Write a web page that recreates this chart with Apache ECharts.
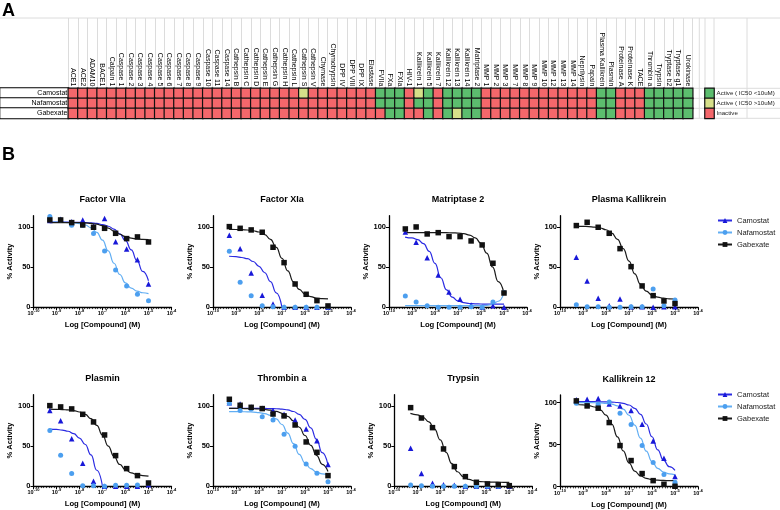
<!DOCTYPE html>
<html><head><meta charset="utf-8">
<script src="https://cdn.jsdelivr.net/npm/echarts@6/dist/echarts.min.js"></script>
<style>html,body{margin:0;padding:0;background:#fff}#c{width:780px;height:510px}</style>
</head><body><div id="c"></div>
<script>
// ---------- Panel A data ----------
const targets = ['ACE1','ACE2','ADAM10','BACE1','Calpain 1','Caspase 1','Caspase 2','Caspase 3','Caspase 4','Caspase 5','Caspase 6','Caspase 7','Caspase 8','Caspase 9','Caspase 10','Caspase 11','Caspase 14','Cathepsin B','Cathepsin C','Cathepsin D','Cathepsin E','Cathepsin G','Cathepsin H','Cathepsin L','Cathepsin S','Cathepsin V','Chymase','Chymotrypsin','DPP IV','DPP VIII','DPP IX','Elastase','FVIIa','FXa','FXIa','HIV-1','Kallikrein 1','Kallikrein 5','Kallikrein 7','Kallikrein 12','Kallikrein 13','Kallikrein 14','Matriptase 2','MMP 1','MMP 2','MMP 3','MMP 7','MMP 8','MMP 9','MMP 10','MMP 12','MMP 13','MMP 14','Neprilysin','Papain','Plasma Kallikrein','Plasmin','Proteinase A','Proteinase K','TACE','Thrombin a','Trypsin','Tryptase b2','Tryptase g1','Urokinase'];
const compounds = ['Camostat','Nafamostat','Gabexate'];
// 0 = inactive, 1 = active (IC50 < 10uM), 2 = active (IC50 > 10uM)
const camostatActivity = [0,0,0,0,0,0,0,0,0,0, 0,0,0,0,0,0,0,0,0,0, 0,0,0,0,2,0,0,0,0,0, 0,0,1,1,1,0,2,1,0,1, 1,1,1,0,0,0,0,0,0,0, 0,0,0,0,0,1,1,0,0,0, 1,1,1,1,1];
const nafamostatActivity = [0,0,0,0,0,0,0,0,0,0, 0,0,0,0,0,0,0,0,0,0, 0,0,0,0,0,0,0,0,0,0, 0,0,1,1,1,0,1,1,0,1, 1,1,1,0,0,0,0,0,0,0, 0,0,0,0,0,1,1,0,0,0, 1,1,1,1,1];
const gabexateActivity = [0,0,0,0,0,0,0,0,0,0, 0,0,0,0,0,0,0,0,0,0, 0,0,0,0,0,0,0,0,0,0, 0,0,0,1,1,0,0,1,0,1, 2,1,1,0,0,0,0,0,0,0, 0,0,0,0,0,1,1,0,0,0, 1,1,1,1,1];
const legendLabels = ['Active ( IC50 <10uM)','Active ( IC50 >10uM)','Inactive'];
const legendCodes = [1,2,0];

// ---------- Panel B data (log10 molar concentration) ----------
const conc = [-9.29,-8.82,-8.34,-7.86,-7.39,-6.91,-6.43,-5.95,-5.48,-5.0];
const curveX = [-9.3,-9.0,-8.75,-8.5,-8.25,-8.0,-7.75,-7.5,-7.25,-7.0,-6.75,-6.5,-6.25,-6.0,-5.75,-5.5,-5.25,-5.0];

const f7Cam = [108,109.5,106.6,108.7,101,110.4,81.7,72.6,59.3,29];
const f7Naf = [112.9,108.7,102,101.7,91.7,70.1,46.5,26.6,16.2,8.3];
const f7Gab = [108.7,108.7,105.4,102.5,99.6,98.3,92.1,85.5,87.6,81.3];
const f7CamFit = [106,105.9,105.9,105.9,105.8,105.7,105.5,105,104.4,103,100.9,97.3,91.5,83,71.4,58,44.6,33];
const f7NafFit = [106,105.9,105.8,105.5,105.1,104.2,102.4,99.1,93.2,83.6,70.2,54.8,40.8,30.4,23.8,20.1,18.1,17.1];
const f7GabFit = [105.5,105.5,105.5,105.4,105.4,105.3,105.0,104.5,103.4,101.6,98.6,94.8,90.9,87.9,86.1,85.0,84.5,84.2];

const f11Cam = [89.6,73,42.7,14.9,4.1,0,0,0,0,0];
const f11Naf = [69.7,31.1,14.5,2,0.8,0,0,0,0,0.5];
const f11Gab = [100.4,98.3,96.3,93.4,74.7,55.6,29,16.2,8.3,1.7];
const f11CamFit = [63.5,63,62,60.5,57,51,43,32,18,0,null,null,null,null,null,null,null,null];
const f11GabFit = [97,96.8,96.6,96.2,95.3,93.7,90.5,84.5,74.7,60.9,45.4,31.8,22.2,16.4,13.2,11.6,10.8,10.4];

const matCam = [93.8,80.9,61.8,40.2,19.1,10,2.9,0.4,2,0];
const matNaf = [14.1,6.6,2,0,0,0,0.8,0,6.6,18.3];
const matGab = [97.5,100,91.3,92.9,88,88,82.6,77.6,54.8,17.8];
const matCamFit = [87.4,86.3,84.1,79.2,69.7,54.6,36.8,21.8,12.6,7.9,5.7,4.7,4.3,4.1,4.0,4.0,4.0,4.0];
const matNafFit = [2,2,2,2,2,2,2,2,2,2,2,2,2,2,2.5,3.5,7.5,18];
const matGabFit = [93,93,93,93,93,93,93,92.9,92.7,92.4,91.6,89.9,86.5,79.5,67.4,50.2,32.0,17.7];

const pkCam = [62.2,32.8,11.2,2,10.4,0.8,0.8,0,0.8,0.8];
const pkNaf = [3.3,0.8,0.8,0,0,0.8,0.8,22.8,2,9.1];
const pkGab = [101.7,105.8,99.6,92.1,73,50.6,26.6,14.5,7.9,4.6];
const pkGabFit = [101,100.7,100.5,99.9,98.7,96.5,92.3,84.6,72.9,57.5,41.6,28.7,20.2,15.3,12.6,11.3,10.6,10.3];

const plCam = [94.2,81.7,59.3,28.6,6.2,0,0,0,0,2];
const plNaf = [69.3,38.6,15.8,0.8,0.8,0,1.2,1.2,1.7,3.7];
const plGab = [100.4,98.8,96.3,89.6,80.1,63.9,38.2,22,13.3,4.1];
const plCamFit = [71.2,70.8,70,68.5,65.5,60,52,39,20,0,null,null,null,null,null,null,null,null];
const plGabFit = [96,95.7,95.5,95.0,94.2,92.5,89.4,84.1,75.7,63.8,50.1,37.2,27.2,20.6,16.6,14.4,13.3,12.7];

const thCam = [104.1,102.5,98.8,97.1,94.2,89.6,82.6,71.4,56.8,27];
const thNaf = [103.3,94.2,96.3,86.7,82.6,64.7,49.8,27.8,16.2,5.8];
const thGab = [108.3,100.8,98.3,96.7,90,87.6,76.3,55.2,42.3,13.3];
const thCamFit = [97,97,97,97,97,96.9,96.9,96.7,96.5,96.0,95.1,93.1,89.5,83.2,72.8,58.4,41.8,26.7];
const thNafFit = [93,92.9,92.8,92.7,92.4,91.7,90.5,88.3,84.0,76.9,66.3,53,39.7,29.1,22.0,17.7,15.5,14.3];
const thGabFit = [97,96.9,96.8,96.7,96.5,96.2,95.6,94.8,93.2,90.9,87.1,81.5,73.5,63.2,51.0,38.6,27.4,18.4];

const trCam = [47.3,16,3.7,2,1.2,0,0,0,0,0];
const trNaf = [1.7,0.8,0,0,0,0,0,0,0,0.8];
const trGab = [97.9,85,73,46.5,24.5,12,5,2.9,2,0.8];
const trGabFit = [90.7,89.0,85.9,80.3,71.1,57.7,42.2,28.2,18.1,12.0,8.5,6.7,5.9,5.4,5.2,5.1,5.0,5.0];

const k12Cam = [103.2,104,104.8,98.4,96,90.5,74.2,54.4,33.7,11.9];
const k12Naf = [99.2,97.2,98,100.8,87.3,73.8,48.8,28.6,14.3,5.2];
const k12Gab = [102,96,93.3,76.2,48.8,31,15.5,7.1,2.8,0.4];
const k12CamFit = [101,101,101,101,100.9,100.8,100.6,100.1,99.1,97.1,93.2,86.0,74.5,59.3,43.7,31.5,23.7,19.4];
const k12NafFit = [100,100,100,99.8,99.6,99.1,98.1,96.1,92.1,84.9,73.2,57.8,42.1,29.7,21.8,17.4,15.2,14.0];
const k12GabFit = [97.7,97.3,96.4,94.7,91.4,85.1,74.3,59.2,42.5,28.1,18.4,12.7,9.8,8.4,7.6,7.3,7.1,7.05];

const panelTitles = ['Factor VIIa','Factor XIa','Matriptase 2','Plasma Kallikrein','Plasmin','Thrombin a','Trypsin','Kallikrein 12'];
const panelPoints = [[f7Cam,f7Naf,f7Gab],[f11Cam,f11Naf,f11Gab],[matCam,matNaf,matGab],[pkCam,pkNaf,pkGab],[plCam,plNaf,plGab],[thCam,thNaf,thGab],[trCam,trNaf,trGab],[k12Cam,k12Naf,k12Gab]];
const panelFits = [[f7CamFit,f7NafFit,f7GabFit],[f11CamFit,null,f11GabFit],[matCamFit,matNafFit,matGabFit],[null,null,pkGabFit],[plCamFit,null,plGabFit],[thCamFit,thNafFit,thGabFit],[null,null,trGabFit],[k12CamFit,k12NafFit,k12GabFit]];
const yTicks = [0,50,100];
const xTicksMin = -10, xTicksMax = -4;

// ---------- layout & style ----------
const FONT = '"Liberation Sans", Arial, Helvetica, sans-serif';
const RED = '#F4676B', GREEN = '#5CBD6E', YELLOW = '#D6DF89';
const PT_COLOR = {Camostat:'#1818D8', Nafamostat:'#4C9FEF', Gabexate:'#111111'};
const LN_COLOR = {Camostat:'#2B2BE2', Nafamostat:'#62AEF3', Gabexate:'#1A1A1A'};
const SYMBOL = {Camostat:'triangle', Nafamostat:'circle', Gabexate:'rect'};
const SYMSIZE = {Camostat:5.5, Nafamostat:5, Gabexate:5.5};
const panelLeft = [33.5,213,389,560,33.5,213,394.3,560];
const panelTop = [215.7,215.7,215.7,215.7,394.7,394.7,394.7,395];
const panelYMax = [114,114,114,114,114,114,114,109];
const PW = 138, PH = 91.6;
const HM_LEFT = 68.3, HM_TOP = 88.3, HM_W = 624.4, HM_H = 30;

const grids = [
  {left:HM_LEFT, top:18, width:HM_W, height:HM_TOP-18, outerBoundsMode:'none'},
  {left:HM_LEFT, top:HM_TOP, width:HM_W, height:HM_H, outerBoundsMode:'none'},
  {left:705, top:HM_TOP, width:9, height:HM_H, outerBoundsMode:'none'}
];
const xAxes = [
  {gridIndex:0, type:'category', data:targets, axisLine:{show:false}, axisTick:{show:false}, axisLabel:{show:false},
   splitLine:{show:true, interval:0, lineStyle:{color:'#dcdcdc', width:1}}},
  {gridIndex:1, type:'category', data:targets, position:'top', axisLine:{show:false}, axisTick:{show:false},
   axisLabel:{rotate:90, interval:0, fontSize:7, margin:2, fontFamily:FONT, color:'#000'}},
  {gridIndex:2, type:'category', data:['key'], show:false}
];
const yAxes = [
  {gridIndex:0, type:'value', show:false},
  {gridIndex:1, type:'category', data:compounds, inverse:true, axisLine:{show:false}, axisTick:{show:false},
   axisLabel:{interval:0, fontSize:7, fontFamily:FONT, color:'#000', margin:0, align:'right', width:66, height:10, lineHeight:10,
     padding:[0,1,0,1], borderColor:'#000', borderWidth:1, backgroundColor:'#fff'}},
  {gridIndex:2, type:'category', data:legendLabels, inverse:true, position:'right', axisLine:{show:false}, axisTick:{show:false},
   axisLabel:{interval:0, fontSize:6.2, fontFamily:FONT, color:'#222', margin:2.5}}
];

const heatData = [];
[camostatActivity, nafamostatActivity, gabexateActivity].forEach((row, r) => {
  row.forEach((v, c) => heatData.push([c, r, v]));
});

const series = [
  {type:'heatmap', xAxisIndex:1, yAxisIndex:1, data:heatData, itemStyle:{borderColor:'#111', borderWidth:1.2}},
  {type:'heatmap', xAxisIndex:2, yAxisIndex:2, data:legendCodes.map((v,i)=>[0,i,v]), itemStyle:{borderColor:'#111', borderWidth:1.2}}
];

const graphics = [
  {type:'line', shape:{x1:0, y1:18, x2:780, y2:18}, style:{stroke:'#dcdcdc', lineWidth:1}},
  {type:'text', x:2, y:2, style:{text:'A', font:'bold 18px ' + FONT, fill:'#000', align:'left', verticalAlign:'top'}},
  {type:'text', x:2, y:146, style:{text:'B', font:'bold 18px ' + FONT, fill:'#000', align:'left', verticalAlign:'top'}}
];
[88.3, 98.3, 108.3, 118.3].forEach(y => graphics.push({type:'line', shape:{x1:692.7, y1:y, x2:780, y2:y}, style:{stroke:'#dcdcdc', lineWidth:1}}));
[699.3, 747].forEach(x => graphics.push({type:'line', shape:{x1:x, y1:18, x2:x, y2:118.3}, style:{stroke:'#dcdcdc', lineWidth:1}}));
[705, 714].forEach(x => graphics.push({type:'line', shape:{x1:x, y1:18, x2:x, y2:88.3}, style:{stroke:'#dcdcdc', lineWidth:1}}));

panelTitles.forEach((title, p) => {
  const gi = grids.length;
  grids.push({left:panelLeft[p], top:panelTop[p], width:PW, height:PH, outerBoundsMode:'none'});
  xAxes.push({
    gridIndex:gi, type:'value', min:xTicksMin, max:xTicksMax, interval:1,
    axisLine:{show:true, onZero:false, lineStyle:{color:'#000', width:1.3}},
    axisTick:{show:true, length:3, lineStyle:{color:'#000', width:1}},
    minorTick:{show:true, splitNumber:9, length:1.8, lineStyle:{color:'#000', width:0.7}},
    splitLine:{show:false},
    axisLabel:{margin:2, formatter: v => '{b|10}{s|' + v + '}',
      rich:{b:{fontSize:5.5, fontWeight:'bold', fontFamily:FONT, color:'#000', lineHeight:9},
            s:{fontSize:4, fontWeight:'bold', fontFamily:FONT, color:'#000', lineHeight:5, verticalAlign:'top'}}},
    name:'Log [Compound] (M)', nameLocation:'middle', nameGap:14,
    nameTextStyle:{fontWeight:'bold', fontSize:7.7, fontFamily:FONT, color:'#000'}
  });
  yAxes.push({
    gridIndex:gi, type:'value', min:0, max:panelYMax[p], interval:50,
    axisLine:{show:true, lineStyle:{color:'#000', width:1.3}},
    axisTick:{show:true, length:3, customValues:yTicks, lineStyle:{color:'#000', width:1}},
    axisLabel:{customValues:yTicks, fontSize:7.5, fontWeight:'bold', fontFamily:FONT, color:'#000', margin:3},
    splitLine:{show:false},
    name:'% Activity', nameLocation:'middle', nameGap:18,
    nameTextStyle:{fontWeight:'bold', fontSize:7.5, fontFamily:FONT, color:'#000'}
  });
  graphics.push({type:'text', x:panelLeft[p] + PW/2, y:panelTop[p] - 15.7,
    style:{text:title, font:'bold 9px ' + FONT, fill:'#000', align:'center', verticalAlign:'middle'}});
  compounds.forEach((name, c) => {
    const fit = panelFits[p][c];
    if (fit) {
      series.push({type:'line', name, xAxisIndex:gi, yAxisIndex:gi, data:curveX.map((x,i)=>[x, fit[i]]),
        smooth:true, smoothMonotone:'x', showSymbol:false, symbol:SYMBOL[name], symbolSize:SYMSIZE[name],
        connectNulls:false, lineStyle:{color:LN_COLOR[name], width:1.2}, itemStyle:{color:PT_COLOR[name]}, z:2, silent:true});
    }
    series.push({type:'scatter', name, xAxisIndex:gi, yAxisIndex:gi, data:conc.map((x,i)=>[x, panelPoints[p][c][i]]),
      symbol:SYMBOL[name], symbolSize:SYMSIZE[name], itemStyle:{color:PT_COLOR[name], opacity:1}, z:3, silent:true});
  });
});

const legendCommon = {orient:'vertical', data:compounds, itemWidth:14, itemHeight:6, itemGap:4, padding:0,
  textStyle:{fontSize:7.5, fontFamily:FONT, color:'#222', lineHeight:8}, selectedMode:false};

const option = {
  animation:false,
  textStyle:{fontFamily:FONT},
  grid:grids, xAxis:xAxes, yAxis:yAxes,
  visualMap:[{type:'piecewise', show:false, dimension:2, seriesIndex:[0,1],
    pieces:[{value:0, color:RED},{value:1, color:GREEN},{value:2, color:YELLOW}]}],
  legend:[Object.assign({left:717, top:216.5}, legendCommon), Object.assign({left:717, top:390.5}, legendCommon)],
  series, graphic:graphics
};
const chart = echarts.init(document.getElementById('c'), null, {renderer:'canvas'});
chart.setOption(option);
</script></body></html>
